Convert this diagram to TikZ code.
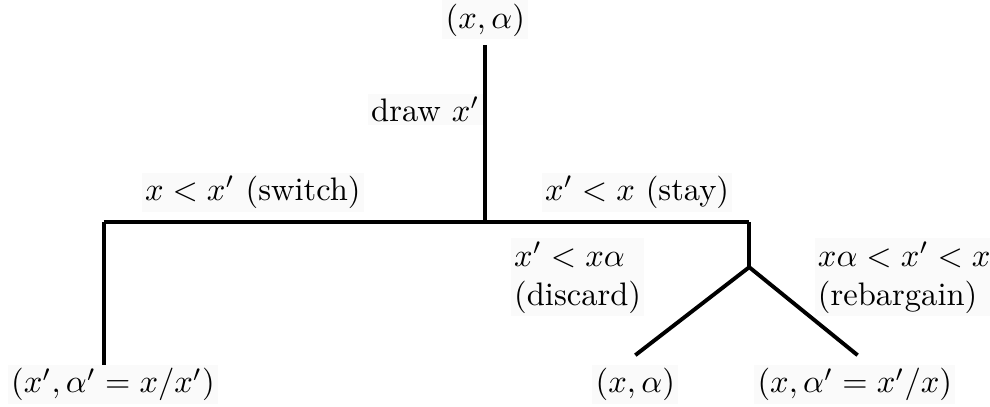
\documentclass[tikz,border=0pt]{standalone}
\usepackage{amsmath,amssymb}
\usepackage{tikz}
\usetikzlibrary{positioning, calc}

\begin{document}
\begin{tikzpicture}[
    branch/.style={line width=1.2pt},
    outcome/.style={inner sep=1pt, fill=black!2},
    choice/.style={inner sep=1pt, fill=black!2, align=left},
  ]
    \useasboundingbox (0,0) rectangle (10.69,4.385);

    % Racine et embranchements
    \node[outcome] (root) at (5.24, 4.17) {$(x,\alpha)$};
    \coordinate (rootend) at (5.24, 3.90);
    \coordinate (fork)  at (5.24, 1.99);
    \coordinate (left)  at (1.12, 1.99);
    \coordinate (right) at (8.09, 1.99);
    \coordinate (split) at (8.09, 1.50);
    \coordinate (leftend)    at (1.12, 0.39);
    \coordinate (discardend) at (6.86, 0.55);
    \coordinate (rebargend)  at (9.26, 0.55);

    \draw[branch] (rootend) -- (fork);
    \draw[branch] (left) -- (right);
    \draw[branch] (left) -- (leftend);
    \draw[branch] (right) -- (split);
    \draw[branch] (split) -- (discardend);
    \draw[branch] (split) -- (rebargend);

    % Etiquettes des branches
    \node[choice, anchor=east] (drawlbl) at (5.22, 3.20) {draw $x'$};
    \node[choice] (switch) at (2.73, 2.31) {$x<x'$ (switch)};
    \node[choice] (stay) at (6.88, 2.31) {$x'<x$ (stay)};
    \node[choice, anchor=west] (discard) at (5.51, 1.39) {$x'<x\alpha$\\(discard)};
    \node[choice, anchor=west] (rebarg) at (8.79, 1.39) {$x\alpha<x'<x$\\(rebargain)};

    % Feuilles
    \node[outcome] (leafswitch) at (1.22, 0.23) {$(x',\alpha'=x/x')$};
    \node[outcome] (leafdiscard) at (6.86, 0.23) {$(x,\alpha)$};
    \node[outcome] (leafrebarg) at (9.23, 0.23) {$(x,\alpha'=x'/x)$};
  \end{tikzpicture}
\end{document}
